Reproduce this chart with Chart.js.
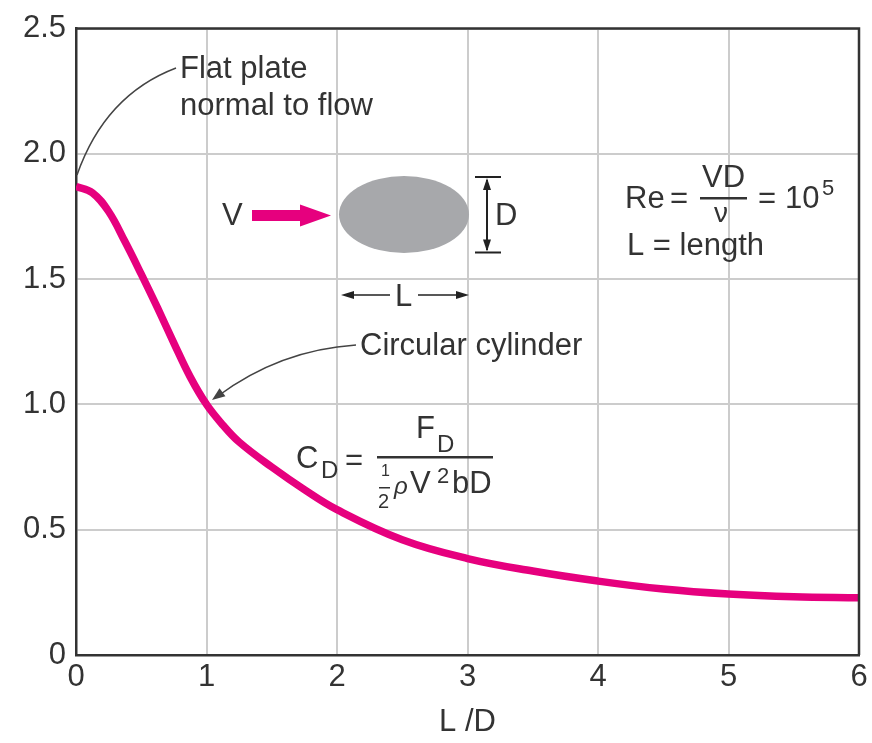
<!DOCTYPE html>
<html>
<head>
<meta charset="utf-8">
<script src="https://cdn.jsdelivr.net/npm/chart.js@4.4.1/dist/chart.umd.min.js"></script>
<style>
html, body { margin: 0; padding: 0; background: #fff; }
canvas { display: block; }
</style>
</head>
<body>
<canvas id="chart" width="872" height="743"></canvas>
<script>
var lengthRatio = [0, 0.125, 0.25, 0.375, 0.5, 0.625, 0.75, 0.875, 1, 1.125, 1.25, 1.5, 1.75, 2, 2.5, 3, 3.5, 4, 4.5, 5, 5.5, 6];
var dragCoefficient = [1.87, 1.845, 1.77, 1.65, 1.52, 1.385, 1.245, 1.11, 1.0, 0.918, 0.85, 0.75, 0.66, 0.58, 0.46, 0.385, 0.335, 0.295, 0.263, 0.243, 0.232, 0.228];
var xTicks = [0, 1, 2, 3, 4, 5, 6];
var yTicks = [0, 0.5, 1, 1.5, 2, 2.5];
var yTickLabels = ['0', '0.5', '1.0', '1.5', '2.0', '2.5'];
var xTitle = 'L /D';

var FONT = "'Liberation Sans', Arial, sans-serif";
var INK = '#333';
var MAGENTA = '#e6007e';

function font(size, italic) {
  return (italic ? 'italic ' : '') + size + 'px ' + FONT;
}

function text(ctx, s, x, y, size, italic) {
  ctx.font = font(size, italic);
  ctx.fillText(s, x, y);
}

function head(ctx, tx, ty, dx, dy, len, half) {
  var d = Math.sqrt(dx * dx + dy * dy);
  var ux = dx / d, uy = dy / d;
  ctx.beginPath();
  ctx.moveTo(tx, ty);
  ctx.lineTo(tx - ux * len - uy * half, ty - uy * len + ux * half);
  ctx.lineTo(tx - ux * len + uy * half, ty - uy * len - ux * half);
  ctx.closePath();
  ctx.fill();
}

var frame = {
  id: 'frame',
  afterDatasetsDraw: function(chart) {
    var ctx = chart.ctx, a = chart.chartArea;
    ctx.save();
    ctx.strokeStyle = INK;
    ctx.lineWidth = 2.5;
    ctx.beginPath();
    ctx.moveTo(a.left, a.top);
    ctx.lineTo(a.right, a.top);
    ctx.lineTo(a.right, a.bottom);
    ctx.stroke();
    ctx.restore();
  }
};

var notes = {
  id: 'notes',
  afterDraw: function(chart) {
    var ctx = chart.ctx;
    ctx.save();
    ctx.fillStyle = INK;
    ctx.textAlign = 'left';
    ctx.textBaseline = 'alphabetic';

    // flat plate label and leader
    text(ctx, 'Flat plate', 180, 78, 31);
    text(ctx, 'normal to flow', 180, 115, 31);
    ctx.strokeStyle = '#444';
    ctx.lineWidth = 1.5;
    ctx.beginPath();
    ctx.moveTo(77, 175);
    ctx.quadraticCurveTo(105, 95, 176, 68);
    ctx.stroke();

    // circular cylinder label and leader
    text(ctx, 'Circular cylinder', 360, 355, 31);
    ctx.beginPath();
    ctx.moveTo(356, 345);
    ctx.quadraticCurveTo(280, 350, 218, 396);
    ctx.stroke();
    ctx.fillStyle = '#444';
    head(ctx, 212, 400, -68, 50, 13, 5);

    // velocity arrow
    ctx.fillStyle = INK;
    text(ctx, 'V', 222, 225, 31);
    ctx.fillStyle = MAGENTA;
    ctx.fillRect(252, 210, 50, 11);
    head(ctx, 331, 215.5, 1, 0, 31, 11);

    // body
    ctx.fillStyle = '#a7a8ab';
    ctx.beginPath();
    ctx.ellipse(404, 214.5, 65, 38.5, 0, 0, Math.PI * 2);
    ctx.fill();

    // D dimension
    ctx.strokeStyle = '#222';
    ctx.fillStyle = '#222';
    ctx.lineWidth = 2;
    ctx.beginPath();
    ctx.moveTo(475, 177); ctx.lineTo(501, 177);
    ctx.moveTo(475, 252.5); ctx.lineTo(501, 252.5);
    ctx.moveTo(487, 180); ctx.lineTo(487, 250);
    ctx.stroke();
    head(ctx, 487, 178, 0, -1, 12, 4);
    head(ctx, 487, 251.5, 0, 1, 12, 4);

    // L dimension
    ctx.lineWidth = 1.5;
    ctx.beginPath();
    ctx.moveTo(345, 295); ctx.lineTo(390, 295);
    ctx.moveTo(418, 295); ctx.lineTo(465, 295);
    ctx.stroke();
    head(ctx, 341, 295, -1, 0, 13, 4);
    head(ctx, 469, 295, 1, 0, 13, 4);

    ctx.fillStyle = INK;
    text(ctx, 'D', 495, 225, 31);
    text(ctx, 'L', 395, 306, 31);

    // Reynolds number
    text(ctx, 'Re', 625, 208, 31);
    text(ctx, '=', 670, 208, 31);
    text(ctx, 'VD', 702, 187, 31);
    ctx.fillRect(700, 197, 47, 2.5);
    text(ctx, 'ν', 714, 222, 28);
    text(ctx, '=', 758, 208, 31);
    text(ctx, '10', 785, 208, 31);
    text(ctx, '5', 822, 195, 22);
    text(ctx, 'L = length', 627, 255, 31);

    // drag coefficient
    text(ctx, 'C', 296, 468, 31);
    text(ctx, 'D', 321, 478, 24);
    text(ctx, '=', 345, 470, 31);
    ctx.fillRect(377, 456, 116, 2.5);
    text(ctx, 'F', 416, 438, 31);
    text(ctx, 'D', 437, 452, 24);
    text(ctx, '1', 381, 476, 16);
    ctx.fillRect(379, 487, 11, 1.5);
    text(ctx, '2', 378, 508, 20);
    text(ctx, 'ρ', 394, 494, 24, true);
    text(ctx, 'V', 410, 493, 31);
    text(ctx, '2', 437, 483, 22);
    text(ctx, 'bD', 452, 493, 31);

    ctx.restore();
  }
};

var chart = new Chart(document.getElementById('chart'), {
  type: 'line',
  data: {
    datasets: [{
      data: lengthRatio.map(function(x, i) { return { x: x, y: dragCoefficient[i] }; }),
      borderColor: MAGENTA,
      borderWidth: 7.5,
      pointRadius: 0,
      fill: false,
      tension: 0.4
    }]
  },
  options: {
    responsive: false,
    animation: false,
    layout: { padding: { top: 22, right: 13, left: 0, bottom: 0 } },
    plugins: { legend: { display: false }, tooltip: { enabled: false } },
    scales: {
      x: {
        type: 'linear',
        min: 0,
        max: 6,
        afterFit: function(s) { s.height = 88; },
        afterBuildTicks: function(s) { s.ticks = xTicks.map(function(v) { return { value: v }; }); },
        grid: { color: '#cccccc', lineWidth: 2, drawTicks: false },
        border: { color: INK, width: 2.5 },
        ticks: { padding: 4, color: INK, font: { family: FONT, size: 31 }, maxRotation: 0 },
        title: { display: true, text: xTitle, color: INK, font: { family: FONT, size: 31 }, padding: { top: 0, bottom: 2 } }
      },
      y: {
        min: 0,
        max: 2.5,
        afterFit: function(s) { s.width = 76; },
        afterBuildTicks: function(s) { s.ticks = yTicks.map(function(v) { return { value: v }; }); },
        grid: { color: '#cccccc', lineWidth: 2, drawTicks: false },
        border: { color: INK, width: 2.5 },
        ticks: {
          padding: 10,
          color: INK,
          font: { family: FONT, size: 31 },
          callback: function(v) { return yTickLabels[yTicks.indexOf(v)]; }
        }
      }
    }
  },
  plugins: [frame, notes]
});
</script>
</body>
</html>
